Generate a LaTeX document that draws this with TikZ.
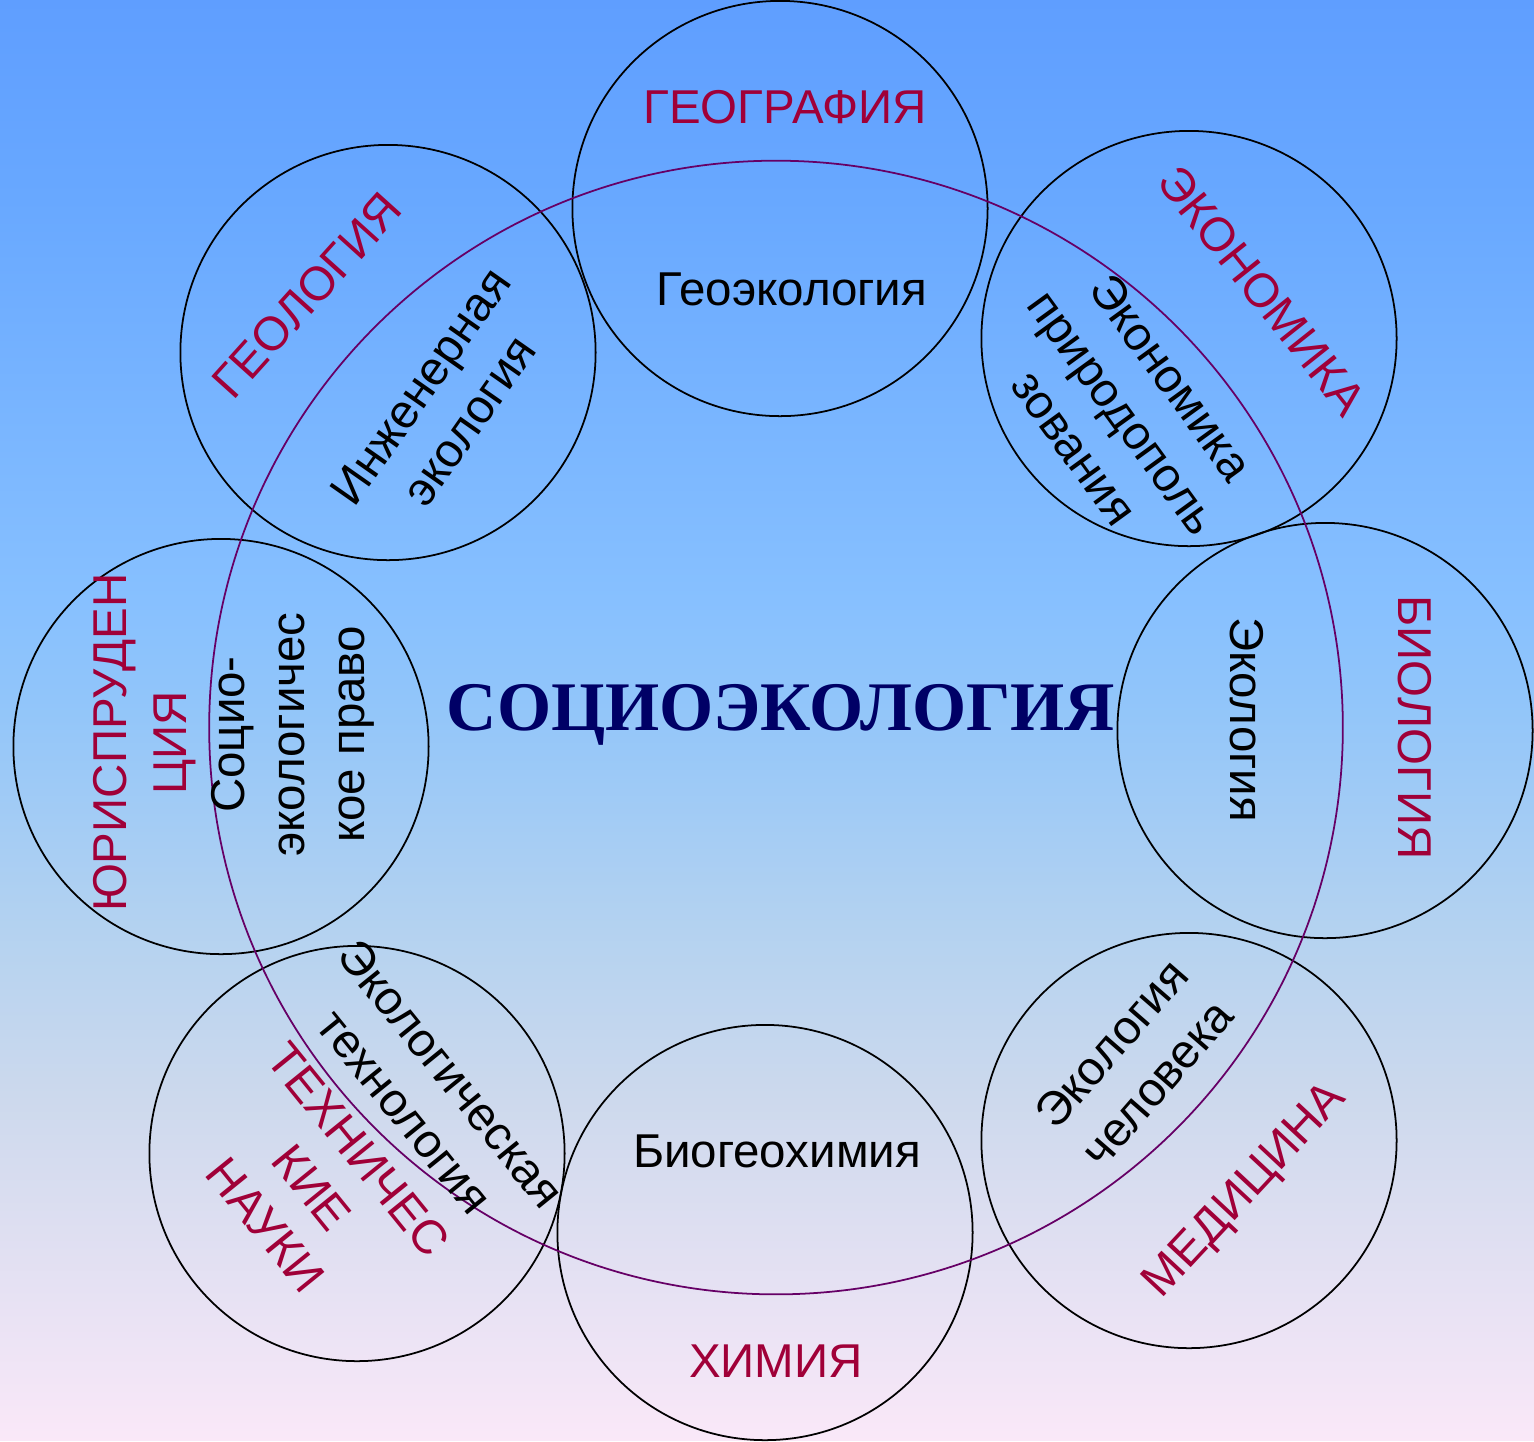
\documentclass[tikz,border=0pt]{standalone}
\usepackage{fontspec}
\setmainfont{Liberation Sans}
\newfontfamily\titlefont{Liberation Serif}
\definecolor{fieldred}{RGB}{160,0,56}
\definecolor{titlenavy}{RGB}{0,0,102}
\definecolor{ringpurple}{RGB}{102,0,102}
\usepackage{tikz}
% sky-to-pink backdrop (path fills 25bp..75bp)
\pgfdeclareverticalshading{skyfade}{100bp}{
  rgb(0bp)=(0.980,0.910,0.973); rgb(25bp)=(0.980,0.910,0.973);
  rgb(36.8bp)=(0.804,0.851,0.929); rgb(42.7bp)=(0.706,0.824,0.941);
  rgb(50.7bp)=(0.569,0.773,0.980); rgb(54.2bp)=(0.529,0.753,1.0);
  rgb(68.1bp)=(0.408,0.659,1.0); rgb(75bp)=(0.373,0.620,1.0);
  rgb(100bp)=(0.373,0.620,1.0)}
\tikzset{
  disc/.style={draw=black,line width=0.5pt,circle,minimum size=4.15cm,inner sep=0pt},
  field/.style={text=fieldred,font=\fontsize{13.5}{17}\selectfont,align=center,inner sep=0pt},
  cross/.style={text=black,font=\fontsize{13.5}{17}\selectfont,align=center,inner sep=0pt}
}

\begin{document}
\begin{tikzpicture}[x=0.01cm,y=-0.01cm]
  % Background gradient
  \shade[shading=skyfade] (0,0) rectangle (1534,1440);

  % Discipline circles
  \node[disc] (geogr) at (780,208) {};
  \node[disc] (geol)  at (388,352) {};
  \node[disc] (econ)  at (1189,338) {};
  \node[disc] (law)   at (221,746) {};
  \node[disc] (bio)   at (1325,730) {};
  \node[disc] (tech)  at (357,1153) {};
  \node[disc] (chem)  at (765,1232) {};
  \node[disc] (med)   at (1189,1140) {};
  % Big circle
  \node[draw=ringpurple,line width=0.5pt,circle,minimum size=11.33cm,inner sep=0pt]
        (socio) at (776,727) {};

  % Centre title
  \node[text=titlenavy,font=\titlefont\bfseries\fontsize{19.8}{23}\selectfont,
        anchor=base,inner sep=0pt] (title) at (781,730) {СОЦИОЭКОЛОГИЯ};

  % Geography
  \node[field,anchor=base] (geogrlab) at (785,123) {ГЕОГРАФИЯ};
  \node[cross,anchor=base] (geoeco) at (792,305) {Геоэкология};
  % Geology
  \node[field,rotate=48] (geollab) at (307,295) {ГЕОЛОГИЯ};
  \node[cross,rotate=55] (engeco) at (445,403) {Инженерная\\экология};
  % Economics
  \node[field,rotate=-51.5] (econlab) at (1262,290) {ЭКОНОМИКА};
  \node[cross,rotate=-54] (natecon) at (1123,412) {Экономика\\природополь\\зования};
  % Law
  \node[field,rotate=90] (lawlab) at (145,742) {ЮРИСПРУДЕН\\ЦИЯ};
  \node[cross,rotate=90] (ecolaw) at (293,734) {Социо-\\экологичес\\кое право};
  % Biology
  \node[field,rotate=-90] (biolab) at (1415,727) {БИОЛОГИЯ};
  \node[cross,rotate=-90] (ecol) at (1247,719) {Экология};
  % Technical sciences
  \node[field,rotate=-51] (techlab) at (312,1187) {ТЕХНИЧЕС\\КИЕ\\НАУКИ};
  \node[cross,rotate=-51] (ecotech) at (428,1092) {Экологическая\\технология};
  % Chemistry
  \node[field,anchor=base] (chemlab) at (776,1377) {ХИМИЯ};
  \node[cross,anchor=base] (biogeo) at (777,1167) {Биогеохимия};
  % Medicine
  \node[field,rotate=47] (medlab) at (1246,1191) {МЕДИЦИНА};
  \node[cross,rotate=49] (humeco) at (1134,1063) {Экология\\человека};
\end{tikzpicture}
\end{document}
